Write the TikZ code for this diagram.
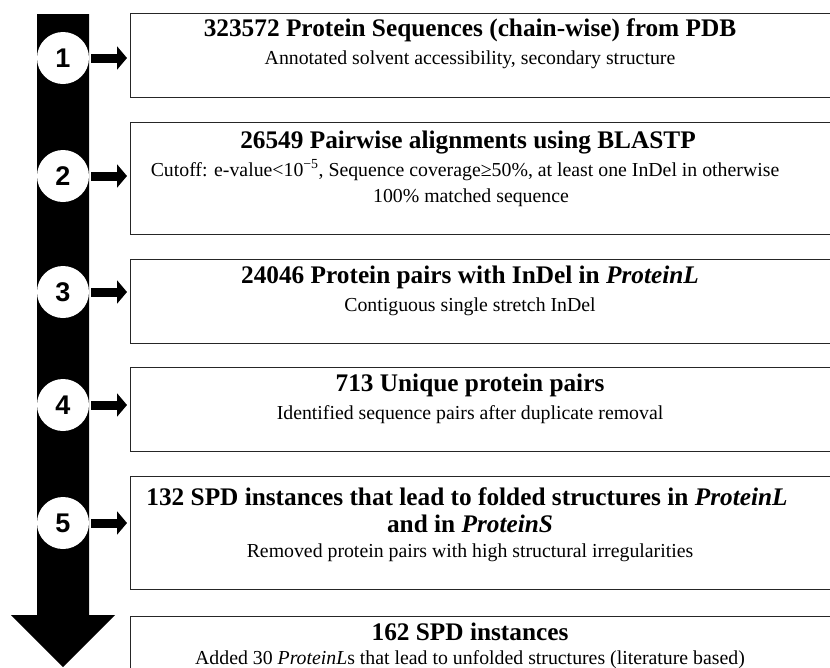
\documentclass[tikz,border=0pt]{standalone}
\usepackage{fontspec}
\setmainfont{Liberation Serif}
\newfontfamily\stepfont{Liberation Sans}
\usepackage{tikz}
\usetikzlibrary{arrows.meta}

\begin{document}
\begin{tikzpicture}[x=1pt,y=-1pt,line join=miter,
  stagebox/.style={draw=black!85,line width=1.3pt,rectangle,anchor=north west,inner sep=0pt,minimum width=740pt},
  stepnum/.style={circle,fill=white,inner sep=0pt,minimum size=52pt,font=\stepfont\fontsize{27}{27}\selectfont\bfseries},
  headline/.style={anchor=base,align=center,inner sep=0pt,font=\fontsize{25.3}{27}\selectfont\bfseries},
  subline/.style={anchor=base,align=center,inner sep=0pt,font=\fontsize{19.8}{26}\selectfont},
  into/.style={line width=9pt,-{Triangle[length=10pt,width=23pt]},shorten <=2pt,shorten >=3pt}]
\useasboundingbox (0,0) rectangle (830,667);
\clip (0,0) rectangle (830,667);
\fill (37,14) -- (89,14) -- (89,615) -- (115,615) -- (63,667) -- (11,615) -- (37,615) -- cycle;
\node[stagebox,minimum height=84pt] (b1) at (130,13) {};
\node[stagebox,minimum height=112pt] (b2) at (130,122) {};
\node[stagebox,minimum height=84pt] (b3) at (130,259) {};
\node[stagebox,minimum height=84pt] (b4) at (130,367) {};
\node[stagebox,minimum height=113pt] (b5) at (130,476) {};
\node[stagebox,minimum height=84pt] (b6) at (130,616) {};
\node[stepnum] (c1) at (63,58) {1};
\node[stepnum] (c2) at (63,176) {2};
\node[stepnum] (c3) at (63,292) {3};
\node[stepnum] (c4) at (63,405) {4};
\node[stepnum] (c5) at (63,523) {5};
\draw[into] (c1) -- (c1 -| b1.west);
\draw[into] (c2) -- (c2 -| b2.west);
\draw[into] (c3) -- (c3 -| b3.west);
\draw[into] (c4) -- (c4 -| b4.west);
\draw[into] (c5) -- (c5 -| b5.west);
\node[headline] (t1) at (470,36) {323572 Protein Sequences (chain-wise) from PDB};
\node[subline] (s1) at (470,64) {Annotated solvent accessibility, secondary structure};
\node[headline] (t2) at (468,148) {26549 Pairwise alignments using BLASTP};
\node[subline] (s2) at (465,176) {Cutoff: e-value<10\textsuperscript{−5}, Sequence coverage≥50\%, at least one InDel in otherwise};
\node[subline] (s2b) at (471,202) {100\% matched sequence};
\node[headline] (t3) at (470,283) {24046 Protein pairs with InDel in \textit{ProteinL}};
\node[subline] (s3) at (470,311) {Contiguous single stretch InDel};
\node[headline] (t4) at (470,391) {713 Unique protein pairs};
\node[subline] (s4) at (470,419) {Identified sequence pairs after duplicate removal};
\node[headline] (t5) at (467,505) {132 SPD instances that lead to folded structures in \textit{ProteinL}};
\node[headline] (t5b) at (470,532) {and in \textit{ProteinS}};
\node[subline] (s5) at (470,557) {Removed protein pairs with high structural irregularities};
\node[headline] (t6) at (470,640) {162 SPD instances};
\node[subline] (s6) at (470,664) {Added 30 \textit{ProteinL}s that lead to unfolded structures (literature based)};
\end{tikzpicture}
\end{document}
